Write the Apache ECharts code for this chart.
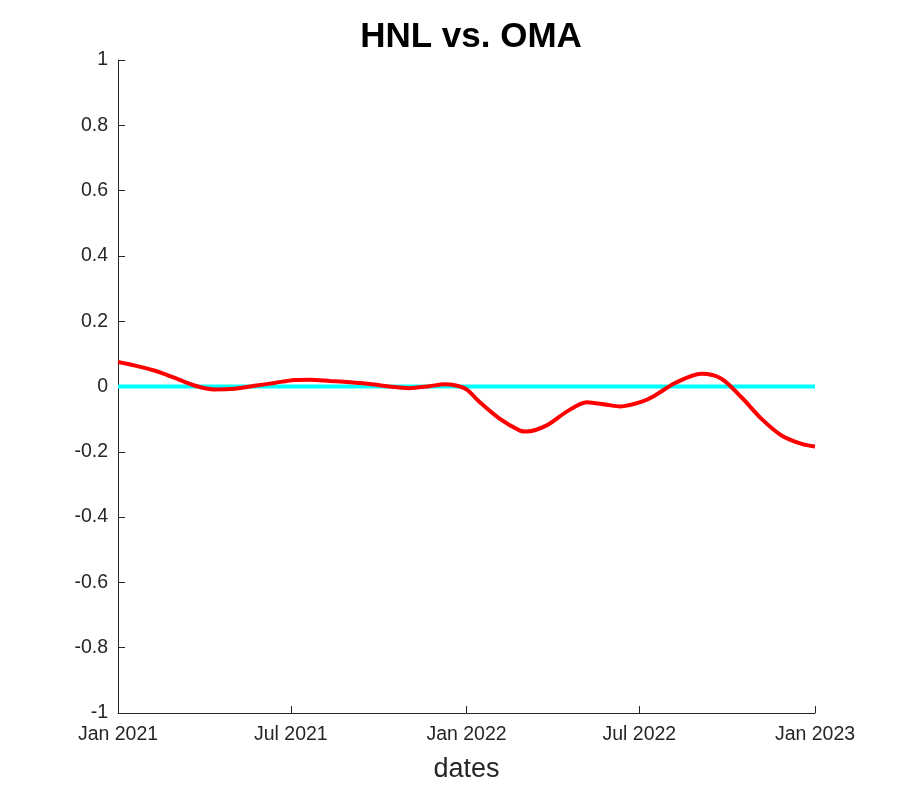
<!DOCTYPE html>
<html>
<head>
<meta charset="utf-8">
<script src="https://cdn.jsdelivr.net/npm/echarts@6/dist/echarts.min.js"></script>
<style>html,body{margin:0;padding:0;background:#fff}#c{width:900px;height:800px}</style>
</head>
<body>
<div id="c"></div>
<script>
const titleText = 'HNL vs. OMA';
const xAxisName = 'dates';
const dates = ['2021-01-01','2021-01-19','2021-02-08','2021-03-01','2021-03-22','2021-04-12','2021-05-03','2021-05-24','2021-06-14','2021-07-05','2021-07-21','2021-08-11','2021-09-01','2021-09-22','2021-10-12','2021-11-02','2021-11-23','2021-12-09','2021-12-21','2022-01-01','2022-01-15','2022-02-05','2022-02-26','2022-03-05','2022-03-26','2022-04-16','2022-05-07','2022-05-28','2022-06-11','2022-07-02','2022-07-17','2022-08-07','2022-09-04','2022-09-25','2022-10-16','2022-11-06','2022-11-27','2022-12-18','2023-01-01'];
const corr = [0.075,0.064,0.049,0.027,0.003,-0.009,-0.007,0.002,0.011,0.02,0.021,0.017,0.013,0.008,0.0,-0.005,0.001,0.007,0.003,-0.009,-0.048,-0.099,-0.135,-0.138,-0.119,-0.077,-0.048,-0.056,-0.061,-0.048,-0.028,0.01,0.039,0.024,-0.033,-0.099,-0.15,-0.176,-0.184];
const zeroLine = [['2021-01-01',0],['2023-01-01',0]];
const xTicks = ['2021-01-01','2021-07-01','2022-01-01','2022-07-01','2023-01-01'];
const yMin = -1, yMax = 1, yStep = 0.2;

const months = ['Jan','Feb','Mar','Apr','May','Jun','Jul','Aug','Sep','Oct','Nov','Dec'];
const toTs = d => Date.UTC(+d.slice(0,4), +d.slice(5,7) - 1, +d.slice(8,10));
const tickTs = xTicks.map(toTs);
const font = 'Liberation Sans, Arial, Helvetica, sans-serif';

const chart = echarts.init(document.getElementById('c'));
chart.setOption({
  animation: false,
  backgroundColor: '#fff',
  title: {
    text: titleText, left: 466, top: 15, textAlign: 'center',
    textStyle: { fontFamily: font, fontSize: 35, fontWeight: 'bold', color: '#000' }
  },
  grid: { left: 118, right: 85, top: 60, bottom: 87, containLabel: false },
  xAxis: {
    type: 'value', min: tickTs[0], max: tickTs[tickTs.length - 1],
    name: xAxisName, nameLocation: 'middle', nameGap: 43,
    nameTextStyle: { fontFamily: font, fontSize: 27, color: '#262626' },
    axisLine: { onZero: false, lineStyle: { color: '#262626', width: 1 } },
    axisTick: { inside: true, length: 7, lineStyle: { color: '#262626' }, customValues: tickTs },
    axisLabel: {
      customValues: tickTs, fontFamily: font, fontSize: 19.5, color: '#262626', margin: 12,
      formatter: v => { const d = new Date(v); return months[d.getUTCMonth()] + ' ' + d.getUTCFullYear(); }
    },
    splitLine: { show: false }
  },
  yAxis: {
    type: 'value', min: yMin, max: yMax, interval: yStep,
    axisLine: { show: true, onZero: false, lineStyle: { color: '#262626', width: 1 } },
    axisTick: { show: true, inside: true, length: 7, lineStyle: { color: '#262626' } },
    axisLabel: {
      fontFamily: font, fontSize: 19.5, color: '#262626', margin: 10,
      formatter: v => { const r = Math.round(v * 10) / 10; return r === 0 ? '0' : String(r); }
    },
    splitLine: { show: false }
  },
  series: [
    {
      type: 'line', data: zeroLine.map(p => [toTs(p[0]), p[1]]), showSymbol: false,
      lineStyle: { color: '#00FFFF', width: 4 }, z: 2
    },
    {
      type: 'line', data: dates.map((d, i) => [toTs(d), corr[i]]), showSymbol: false, smooth: 0.3,
      lineStyle: { color: '#FF0000', width: 4 }, z: 3
    }
  ]
});
</script>
</body>
</html>
